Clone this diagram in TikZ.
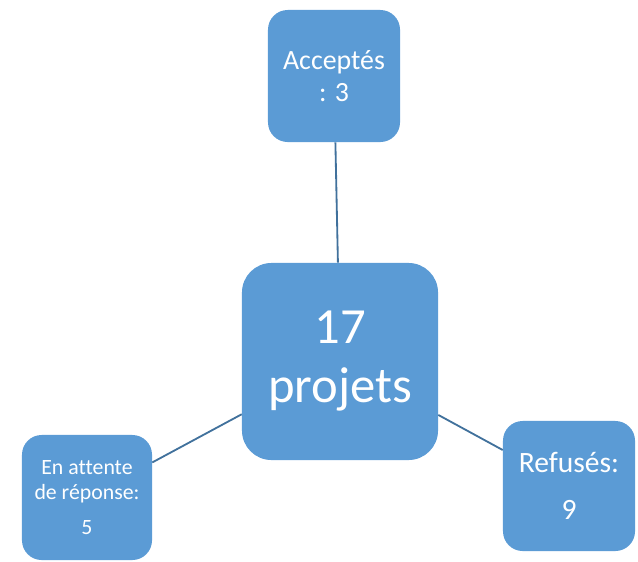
\documentclass[tikz,border=0pt]{standalone}
\usepackage{fontspec}
\setmainfont{Carlito}[Ligatures=NoCommon]
\usepackage{tikz}
\usetikzlibrary{positioning}

\definecolor{boxblue}{HTML}{5B9BD5}
\definecolor{lineblue}{HTML}{41719C}

\tikzset{
  box/.style={fill=boxblue, text=white, rounded corners=14pt, align=center,
    inner sep=0pt, minimum width=3.3cm, minimum height=3.3cm},
  link/.style={lineblue, line width=1.3pt}
}

\begin{document}
\begin{tikzpicture}[x=0.025cm, y=-0.025cm]
  \useasboundingbox (0,0) rectangle (638,561);

  \node[box, minimum width=4.9cm, minimum height=4.925cm, rounded corners=21pt,
    font=\fontsize{36}{42}\selectfont] (ctr) at (340,361.5) {17\\projets};
  \node[box, font=\fontsize{19.8}{23}\selectfont] (top) at (334,76) {Acceptés\\: 3};
  \node[box, minimum width=3.25cm, minimum height=3.125cm,
    font=\fontsize{15.5}{17.8}\selectfont] (wait) at (87,497.5) {En attente\\de réponse:\\[7pt]5};
  \node[box, minimum height=3.25cm, font=\fontsize{21}{24}\selectfont] (refused) at (569,486) {Refusés:\\[9pt]9};

  \draw[link] (ctr) -- (top);
  \draw[link] (ctr) -- (wait);
  \draw[link] (ctr) -- (refused);
\end{tikzpicture}
\end{document}
